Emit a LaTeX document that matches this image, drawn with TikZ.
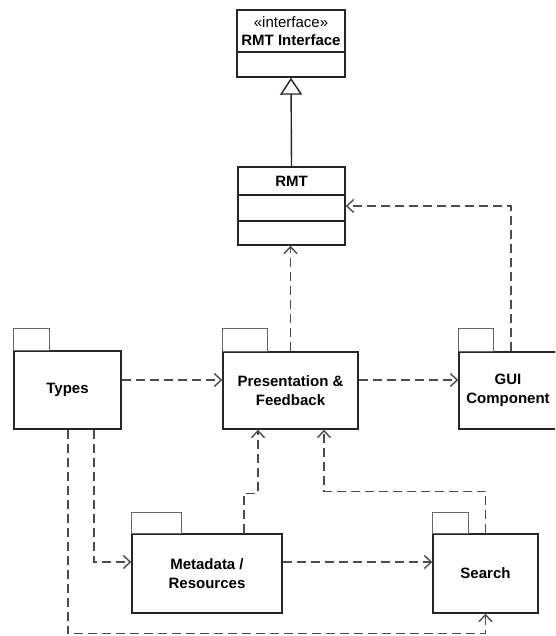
\documentclass[tikz,border=0pt]{standalone}
\usepackage{fontspec}
\setmainfont{Liberation Sans}
\usetikzlibrary{arrows.meta}
\begin{document}
\begin{tikzpicture}[x=1pt,y=-1pt,
  box/.style={draw=black!85, line width=1.4pt, fill=white, inner sep=0pt, align=center,
    font=\bfseries\fontsize{15}{19}\selectfont},
  boxline/.style={draw=black!85, line width=1.4pt},
  tabbox/.style={draw=black!60, line width=1.4pt},
  lbl/.style={inner sep=0pt, font=\fontsize{15}{19}\selectfont},
  blbl/.style={inner sep=0pt, font=\bfseries\fontsize{15}{19}\selectfont},
  dep/.style={draw=black!70, line width=1.4pt, dash pattern=on 9pt off 5pt,
    -{Straight Barb[length=7pt,width=13pt]}},
  real/.style={draw=black!85, line width=1.4pt, -{Triangle[open,length=17pt,width=22pt]}}
]
\useasboundingbox (0,0) rectangle (555,636);
\clip (0,0) rectangle (555,636);
% RMT Interface
\node[box, minimum width=108pt, minimum height=67pt] (iface) at (291,43.5) {};
\draw[boxline] (iface.west |- 0,52) -- (iface.east |- 0,52);
\node[lbl] (stereo) at (291,22) {«interface»};
\node[blbl] (ifname) at (291,40) {RMT Interface};
% RMT
\node[box, minimum width=107pt, minimum height=78pt] (rmt) at (291.5,206) {};
\draw[boxline] (rmt.west |- 0,195) -- (rmt.east |- 0,195);
\draw[boxline] (rmt.west |- 0,221) -- (rmt.east |- 0,221);
\node[blbl] (rmtname) at (291.5,181) {RMT};
% packages
\node[box, minimum width=107pt, minimum height=78pt] (types) at (67.5,390) {Types};
\draw[tabbox] (types.north west) rectangle ++(36,-22);
\node[box, minimum width=135pt, minimum height=77pt] (pres) at (290.5,390.5) {Presentation \&\\Feedback};
\draw[tabbox] (pres.north west) rectangle ++(45,-23);
\node[box, minimum width=98pt, minimum height=77pt] (gui) at (508,390.5) {GUI\\Component};
\draw[tabbox] (gui.north west) rectangle ++(35,-23);
\node[box, minimum width=150pt, minimum height=79pt] (meta) at (207,573.5) {Metadata /\\Resources};
\draw[tabbox] (meta.north west) rectangle ++(50,-21);
\node[box, minimum width=105pt, minimum height=79pt] (search) at (485.5,573.5) {Search};
\draw[tabbox] (search.north west) rectangle ++(36,-21);
% connectors
\draw[real] (rmt.north) -- (iface.south);
\draw[dep] (pres.north) -- (pres.north |- rmt.south);
\draw[dep] ([xshift=3pt]gui.north) |- (rmt.east);
\draw[dep] ([yshift=10pt]types.east) -- ([yshift=10pt]types.east -| pres.west);
\draw[dep] ([yshift=10.5pt]pres.east) -- ([yshift=10.5pt]pres.east -| gui.west);
\draw[dep] ([xshift=37pt]meta.north) -- ++(0,-40) -| ([xshift=-32.5pt]pres.south);
\draw[dep] (search.north) -- ++(0,-42) -| ([xshift=33.5pt]pres.south);
\draw[dep] ([xshift=26.5pt]types.south) |- ([yshift=11.5pt]meta.west);
\draw[dep] ([xshift=0.5pt]types.south) -- ++(0,204) -| (search.south);
\draw[dep] ([yshift=11.5pt]meta.east) -- ([yshift=11.5pt]meta.east -| search.west);
\end{tikzpicture}
\end{document}
